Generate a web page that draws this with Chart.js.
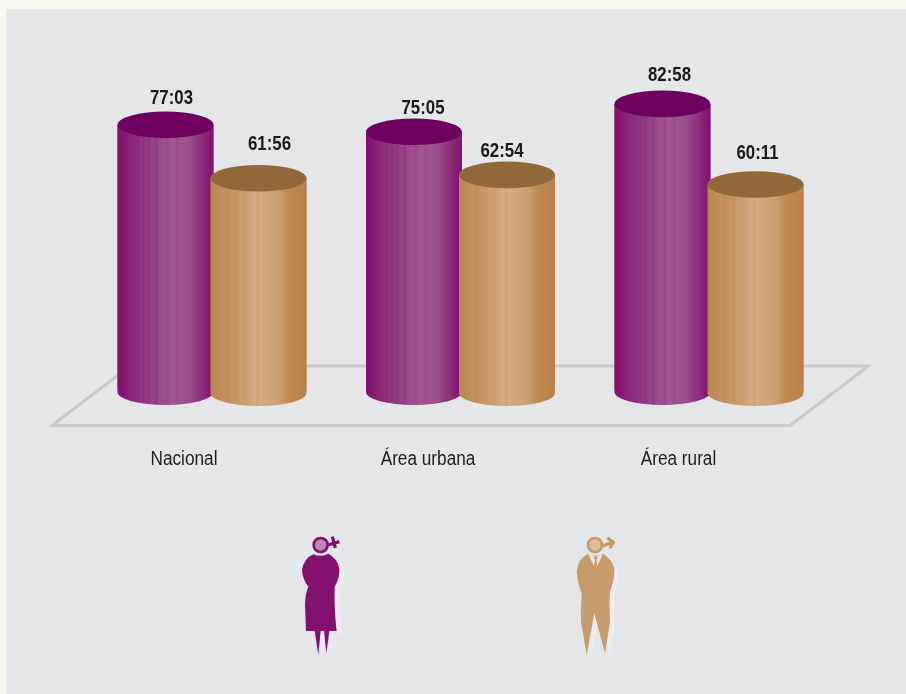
<!DOCTYPE html>
<html>
<head>
<meta charset="utf-8">
<style>html,body{margin:0;padding:0;background:#faf6f2}canvas{display:block}</style>
<script src="https://cdn.jsdelivr.net/npm/chart.js@4"></script>
</head>
<body>
<canvas id="c" width="906" height="694"></canvas>
<script>
const categories = ['Nacional', 'Área urbana', 'Área rural'];
const womenLabels = ['77:03', '75:05', '82:58'];
const menLabels = ['61:56', '62:54', '60:11'];
const womenValues = [77.05, 75.08, 82.97];
const menValues = [61.93, 62.90, 60.18];

const FONT = '"Liberation Sans",Arial,sans-serif';
const womenLabelShift = [[6, -13], [9, -10], [7, -16]];
const menLabelShift = [[11, -21], [-5, -11], [2, -18]];
const categoryLabelShift = [-28, -32.5, -30.5];

const purpleStops = [[0,'#85106f'],[.06,'#861672'],[.1,'#881e74'],[.13,'#8a2677'],[.17,'#8b2a7a'],[.2,'#8d2f7d'],[.215,'#8a2a79'],[.24,'#90367f'],[.27,'#8d317c'],[.3,'#913a81'],[.325,'#8f3680'],[.36,'#954386'],[.39,'#94428a'],[.405,'#8f3a80'],[.43,'#984a8a'],[.47,'#9a4e8c'],[.5,'#9c518d'],[.52,'#97488a'],[.55,'#a0568f'],[.6,'#9f558f'],[.62,'#9a4c8b'],[.65,'#a0558f'],[.75,'#9a4c8b'],[.85,'#8f357e'],[.93,'#891f75'],[1,'#85106f']];
const brownStops = [[0,'#bd8751'],[.08,'#c08b57'],[.14,'#c4925f'],[.18,'#c18d5a'],[.24,'#c89767'],[.27,'#c5945f'],[.32,'#cc9d70'],[.36,'#ca9b6c'],[.42,'#d1a57b'],[.46,'#d5ac85'],[.49,'#cfa277'],[.52,'#d6ad86'],[.56,'#d1a67c'],[.66,'#cfa278'],[.74,'#c99a6c'],[.8,'#c08a55'],[.86,'#bc864e'],[1,'#b7814a']];

function bodyGradient(ctx, x0, x1, stops) {
  const g = ctx.createLinearGradient(x0, 0, x1, 0);
  stops.forEach(s => g.addColorStop(s[0], s[1]));
  return g;
}

function poly(ctx, pts) {
  ctx.beginPath();
  pts.forEach((p, i) => i ? ctx.lineTo(p[0], p[1]) : ctx.moveTo(p[0], p[1]));
  ctx.closePath();
}
function smooth(ctx, pts) {
  ctx.beginPath();
  ctx.moveTo(pts[0][0], pts[0][1]);
  pts.slice(1).forEach(p => p.length === 2 ? ctx.lineTo(p[0], p[1]) : ctx.quadraticCurveTo(p[0], p[1], p[2], p[3]));
  ctx.closePath();
}
function squeezedText(ctx, text, cx, cy, sx) {
  ctx.save();
  ctx.translate(cx, cy);
  ctx.scale(sx, 1);
  ctx.fillText(text, 0, 0);
  ctx.restore();
}

const womanShape = [[100,88],[72,100,66,135],[68,165,85,185],[76,205,75,240],[78,318],[104,318],[115,390],[122,318],[132,318],[139,385],[148,318],[170,318],[162,250,164,185],[180,160,178,130],[172,100,145,86],[122,98,100,88]];
const manShape = [[97,88],[70,100,65,140],[68,175,80,205],[76,250,78,290],[95,390],[118,265],[150,385],[165,290],[163,240,165,200],[180,160,178,130],[172,105,145,86],[122,98,97,88]];

const scenery = {
  id: 'scenery',
  beforeDraw(chart) {
    const ctx = chart.ctx;
    ctx.save();
    ctx.fillStyle = '#faf6f2';
    ctx.fillRect(0, 0, 906, 694);
    ctx.fillStyle = '#e5e6e8';
    ctx.fillRect(6, 9, 900, 685);
    ctx.strokeStyle = '#c8c9cb';
    ctx.lineWidth = 3;
    ctx.lineJoin = 'miter';
    ctx.miterLimit = 10;
    poly(ctx, [[52, 425.5], [790, 425.5], [868.5, 366], [130, 366]]);
    ctx.stroke();
    ctx.restore();
  },
  beforeDatasetsDraw(chart) {
    const ctx = chart.ctx;
    ctx.save();
    ctx.beginPath();
    ctx.rect(0, 0, 906, 390);
    ctx.clip();
  },
  afterDatasetsDraw(chart) {
    const ctx = chart.ctx;
    ctx.restore();
    chart.data.datasets.forEach((ds, d) => {
      chart.getDatasetMeta(d).data.forEach(bar => {
        const x0 = bar.x - bar.width / 2, x1 = bar.x + bar.width / 2, rx = bar.width / 2;
        ctx.save();
        ctx.beginPath();
        ctx.moveTo(x0, bar.y);
        ctx.lineTo(x0, ds.bottomY);
        ctx.ellipse(bar.x, ds.bottomY, rx, 13, 0, Math.PI, 0, true);
        ctx.lineTo(x1, bar.y);
        ctx.closePath();
        ctx.fillStyle = bodyGradient(ctx, x0, x1, ds.stops);
        ctx.fill();
        ctx.beginPath();
        ctx.ellipse(bar.x, bar.y, rx, 13.3, 0, 0, Math.PI * 2);
        ctx.fillStyle = ds.topColor;
        ctx.fill();
        ctx.restore();
      });
    });
  },
  afterDraw(chart) {
    const ctx = chart.ctx;
    ctx.save();
    ctx.textAlign = 'center';
    ctx.textBaseline = 'middle';
    ctx.font = 'bold 20.5px ' + FONT;
    ctx.fillStyle = '#1a1a1a';
    chart.data.datasets.forEach((ds, d) => {
      chart.getDatasetMeta(d).data.forEach((bar, i) => {
        squeezedText(ctx, ds.valueLabels[i], bar.x + ds.shift[i][0], bar.y - 13 + ds.shift[i][1], 0.82);
      });
    });
    ctx.font = '20px ' + FONT;
    ctx.fillStyle = '#1e1e1e';
    const xs = chart.scales.x;
    xs.ticks.forEach((t, i) => {
      squeezedText(ctx, xs.getLabelForValue(t.value), xs.getPixelForTick(i) + categoryLabelShift[i], 459.5, 0.86);
    });
    ctx.restore();

    // woman icon
    ctx.save();
    ctx.translate(280, 525);
    ctx.scale(1 / 3, 1 / 3);
    ctx.save();
    ctx.translate(14, 8);
    ctx.fillStyle = '#ecebf1';
    smooth(ctx, womanShape);
    ctx.fill();
    ctx.restore();
    ctx.fillStyle = '#841070';
    smooth(ctx, womanShape);
    ctx.fill();
    ctx.strokeStyle = '#841070';
    ctx.lineWidth = 10;
    ctx.beginPath();
    ctx.moveTo(145, 60); ctx.lineTo(178, 50);
    ctx.moveTo(157, 35); ctx.lineTo(166, 69);
    ctx.stroke();
    ctx.beginPath();
    ctx.arc(122, 60, 25, 0, Math.PI * 2);
    ctx.fill();
    ctx.fillStyle = '#b98cb1';
    ctx.beginPath();
    ctx.arc(122, 60, 17, 0, Math.PI * 2);
    ctx.fill();
    ctx.restore();

    // man icon
    ctx.save();
    ctx.translate(555, 525);
    ctx.scale(1 / 3, 1 / 3);
    ctx.save();
    ctx.translate(14, 8);
    ctx.fillStyle = '#ecebf1';
    smooth(ctx, manShape);
    ctx.fill();
    ctx.restore();
    ctx.fillStyle = '#c89b6c';
    smooth(ctx, manShape);
    ctx.fill();
    ctx.fillStyle = '#e5e6e8';
    poly(ctx, [[100, 88], [122, 135], [143, 88], [122, 96]]);
    ctx.fill();
    ctx.fillStyle = '#c89b6c';
    poly(ctx, [[117, 96], [127, 96], [124, 106], [128, 125], [121, 134], [115, 125], [120, 106]]);
    ctx.fill();
    ctx.strokeStyle = '#c89b6c';
    ctx.lineWidth = 9;
    ctx.lineJoin = 'miter';
    ctx.beginPath();
    ctx.moveTo(142, 63); ctx.lineTo(175, 51);
    ctx.moveTo(157, 38); ctx.lineTo(175, 51); ctx.lineTo(165, 70);
    ctx.stroke();
    ctx.beginPath();
    ctx.arc(120, 60, 25, 0, Math.PI * 2);
    ctx.fill();
    ctx.fillStyle = '#e0bc9a';
    ctx.beginPath();
    ctx.arc(120, 60, 17, 0, Math.PI * 2);
    ctx.fill();
    ctx.restore();
  }
};

new Chart(document.getElementById('c'), {
  type: 'bar',
  data: {
    labels: categories,
    datasets: [
      { label: 'Mujeres', data: womenValues, valueLabels: womenLabels, shift: womenLabelShift, backgroundColor: '#8f3a80', borderWidth: 0, stops: purpleStops, topColor: '#6e0060', bottomY: 392 },
      { label: 'Hombres', data: menValues, valueLabels: menLabels, shift: menLabelShift, backgroundColor: '#c8996a', borderWidth: 0, stops: brownStops, topColor: '#916839', bottomY: 393 }
    ]
  },
  options: {
    responsive: false,
    animation: false,
    events: [],
    categoryPercentage: 0.7485,
    barPercentage: 1.032,
    layout: { padding: { left: 87.75, right: 72.75, top: 43.7, bottom: 216.8 } },
    plugins: { legend: { display: false }, tooltip: { enabled: false } },
    scales: {
      x: {
        grid: { display: false },
        border: { display: false },
        ticks: { display: false },
        afterFit(scale) { scale.height = 80; }
      },
      y: { display: false, min: 0, max: 100 }
    }
  },
  plugins: [scenery]
});
</script>
</body>
</html>
